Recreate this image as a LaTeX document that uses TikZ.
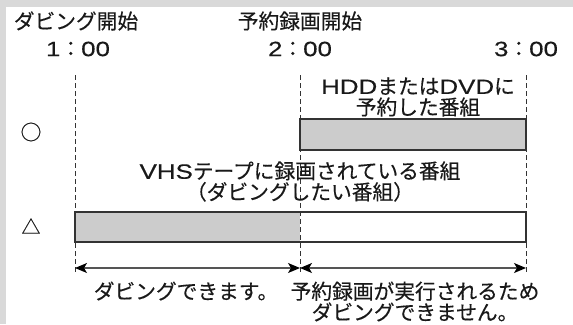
\documentclass[tikz,border=0pt]{standalone}
\usepackage{fontspec}
\setmainfont{Noto Sans CJK JP}[FakeBold=0.3]
\newfontfamily\lat{Liberation Sans}[FakeStretch=1.25,FakeBold=0.3]
\usetikzlibrary{arrows.meta}
\definecolor{bggray}{HTML}{D9D9D9}
\definecolor{barfill}{HTML}{CCCCCC}
\definecolor{edge}{HTML}{333333}
\definecolor{dimline}{HTML}{555555}
\begin{document}
\begin{tikzpicture}[x=1bp,y=-1bp,
  lbl/.style={inner sep=0pt, font=\fontsize{20.8}{21}\selectfont, align=center, text=black!90},
  guide/.style={draw=edge, dash pattern=on 5bp off 3bp, line width=1bp},
  barline/.style={draw=edge, line width=1.4bp},
  dim/.style={draw=dimline, line width=1.2bp, {Stealth[length=12bp,width=10bp,inset=3bp,color=black]}-{Stealth[length=12bp,width=10bp,inset=3bp,color=black]}}]
\useasboundingbox (0,0) rectangle (573,324);
\fill[bggray] (0,0) rectangle (573,324);
\fill[white] (6,7) rectangle (573,324);
% headers and times
\node[lbl] (h1) at (76,21) {ダビング開始};
\node[lbl] (h2) at (300,21) {予約録画開始};
\node[lbl] (t1) at (78,49) {{\lat 1}：{\lat 00}};
\node[lbl] (t2) at (300,49) {{\lat 2}：{\lat 00}};
\node[lbl] (t3) at (526,49) {{\lat 3}：{\lat 00}};
% bar fills
\fill[barfill] (300,119) rectangle (526,150);
\fill[barfill] (75,212) rectangle (300,242);
% guide lines
\coordinate (g1t) at (75,75);  \coordinate (g1b) at (75,273);
\coordinate (g2t) at (300,75); \coordinate (g2b) at (300,273);
\coordinate (g3t) at (526,75); \coordinate (g3b) at (526,273);
\draw[guide] (g1t) -- (g1b);
\draw[guide] (g2t) -- (g2b);
\draw[guide] (g3t) -- (g3b);
% bar outlines
\draw[barline] (300,119) rectangle (526,150);
\draw[barline] (75,212) rectangle (526,242);
% labels
\node[lbl] (hdd) at (418,97) {{\lat HDD}または{\lat DVD}に\\予約した番組};
\node[lbl] (vhs) at (300,181.5) {{\lat VHS}テープに録画されている番組\\（ダビングしたい番組）};
\node[lbl] (ok) at (31,132) {○};
\node[lbl, font=\fontsize{19}{19}\selectfont] (ng) at (31,226) {△};
% dimension arrows
\coordinate (a1) at (75,268);
\coordinate (a2) at (300,268);
\coordinate (a3) at (526,268);
\draw[dim] (a1) -- (a2);
\draw[dim] (a2) -- (a3);
\node[lbl] (can) at (186,291) {ダビングできます。};
\node[lbl] (cannot) at (415,301.5) {予約録画が実行されるため\\ダビングできません。};
\end{tikzpicture}
\end{document}
